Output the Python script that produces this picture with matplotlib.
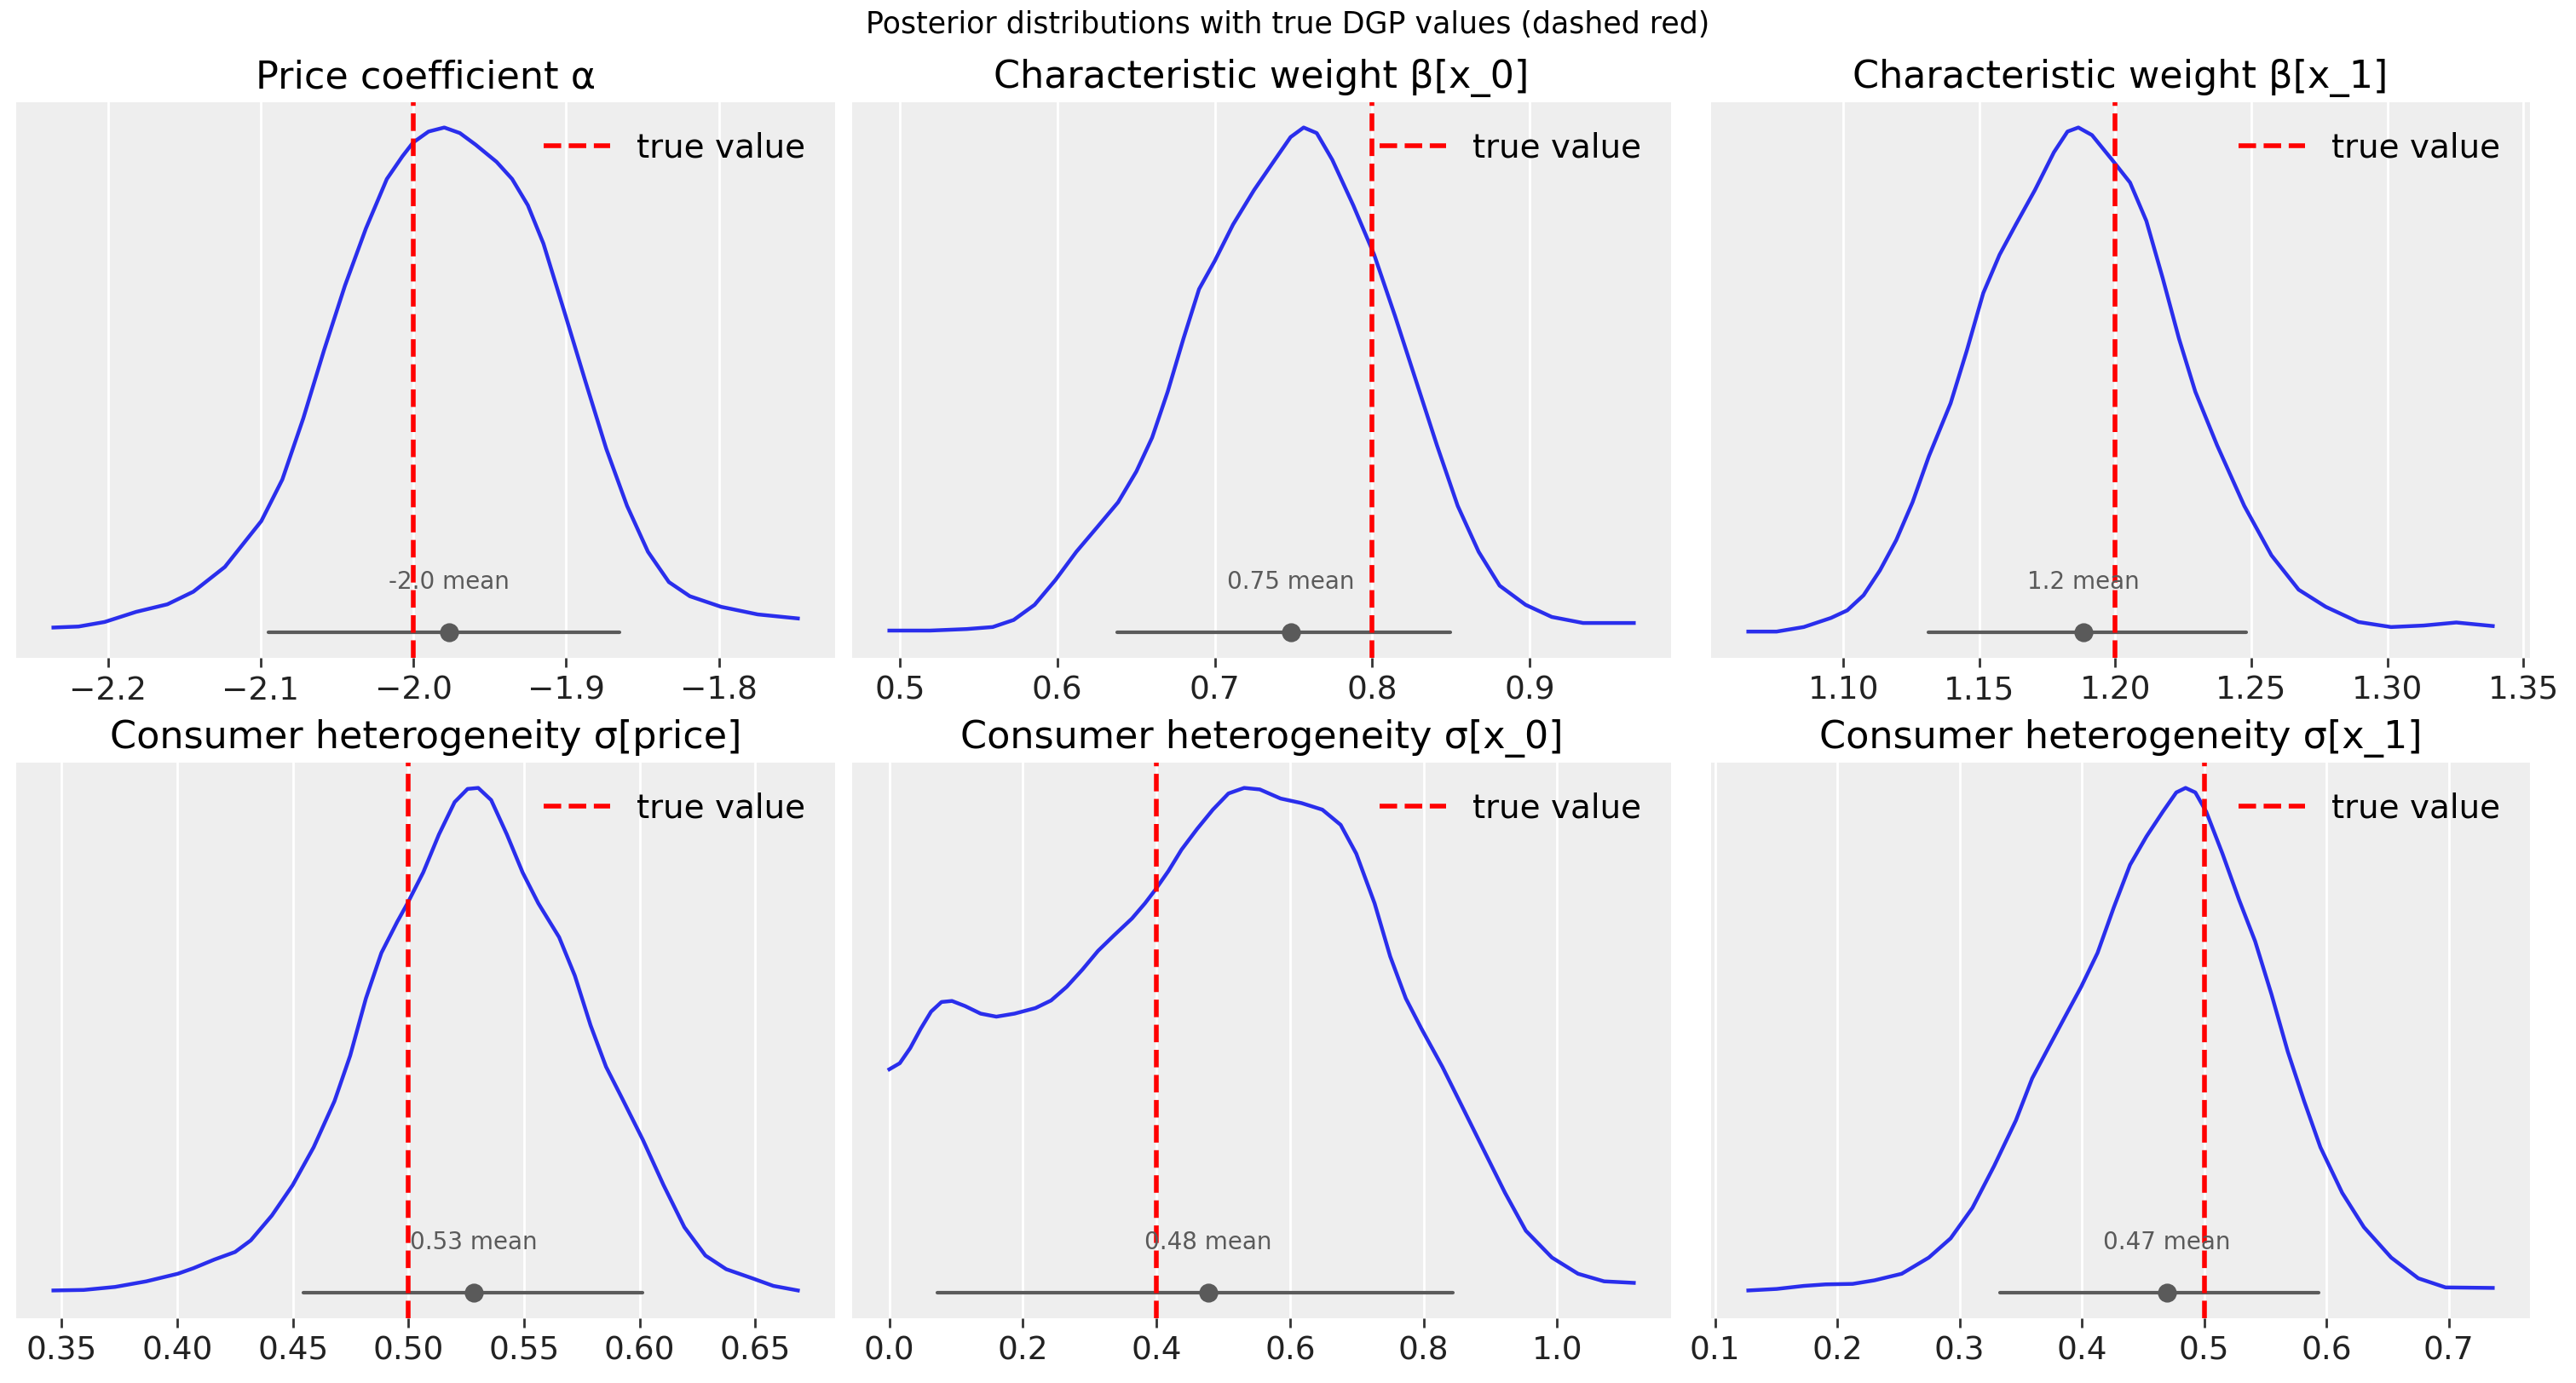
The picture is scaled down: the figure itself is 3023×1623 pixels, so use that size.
import numpy as np
import matplotlib
matplotlib.use("Agg")
import matplotlib.pyplot as plt

# posterior KDE curves (density scaled to peak = 1)
alpha_x = [-2.2356, -2.2191, -2.2021, -2.1815, -2.161, -2.144, -2.1234, -2.0995, -2.0858,
           -2.0721, -2.0585, -2.0448, -2.0311, -2.0174, -2.0072, -2.0003, -1.9901, -1.9798,
           -1.9696, -1.9593, -1.9456, -1.9354, -1.9251, -1.9149, -1.9012, -1.8876, -1.8738,
           -1.8602, -1.8465, -1.8328, -1.8191, -1.7986, -1.7747, -1.7484]
alpha_dens = [0.010, 0.012, 0.021, 0.041, 0.056, 0.081, 0.130, 0.221, 0.303, 0.424, 0.559,
              0.687, 0.800, 0.898, 0.943, 0.970, 0.992, 1.000, 0.989, 0.966, 0.932, 0.898,
              0.846, 0.770, 0.635, 0.499, 0.364, 0.251, 0.160, 0.100, 0.072, 0.051, 0.036, 0.028]

beta0_x = [0.4934, 0.5192, 0.5425, 0.559, 0.5723, 0.5856, 0.5988, 0.6121, 0.6254, 0.6386,
           0.6502, 0.6602, 0.6701, 0.6801, 0.690, 0.700, 0.7116, 0.7249, 0.7381, 0.7481,
           0.7564, 0.7647, 0.7746, 0.7879, 0.8012, 0.8144, 0.8277, 0.841, 0.8542, 0.8675,
           0.8808, 0.8973, 0.9139, 0.9338, 0.966]
beta0_dens = [0.004, 0.004, 0.007, 0.011, 0.025, 0.055, 0.104, 0.160, 0.209, 0.258, 0.319,
              0.386, 0.477, 0.582, 0.680, 0.736, 0.808, 0.876, 0.936, 0.981, 1.000, 0.989,
              0.936, 0.846, 0.748, 0.627, 0.499, 0.371, 0.251, 0.160, 0.093, 0.055, 0.031,
              0.019, 0.019]

beta1_x = [1.065, 1.0754, 1.0854, 1.0954, 1.1014, 1.1074, 1.1134, 1.1194, 1.1254, 1.1314,
           1.1394, 1.1454, 1.1514, 1.1574, 1.1634, 1.1704, 1.1774, 1.1824, 1.1864, 1.1914,
           1.1994, 1.2054, 1.2114, 1.2174, 1.2234, 1.2294, 1.2374, 1.2474, 1.2574, 1.2674,
           1.2774, 1.2894, 1.3014, 1.3134, 1.3254, 1.3388]
beta1_dens = [0.002, 0.002, 0.011, 0.029, 0.044, 0.074, 0.123, 0.183, 0.258, 0.349, 0.454,
              0.559, 0.672, 0.748, 0.808, 0.876, 0.951, 0.992, 1.000, 0.985, 0.932, 0.891,
              0.815, 0.702, 0.582, 0.477, 0.371, 0.251, 0.153, 0.085, 0.051, 0.021, 0.011,
              0.014, 0.020, 0.013]

sig_price_x = [0.3464, 0.3595, 0.3731, 0.3866, 0.4002, 0.407, 0.416, 0.425, 0.4318, 0.4409,
               0.4499, 0.459, 0.468, 0.4748, 0.4816, 0.4883, 0.4951, 0.4996, 0.5064, 0.5132,
               0.5200, 0.5256, 0.5302, 0.5358, 0.5426, 0.5494, 0.5562, 0.5652, 0.572, 0.5788,
               0.5855, 0.5923, 0.6014, 0.6104, 0.6194, 0.6285, 0.6375, 0.6488, 0.6579, 0.6685]
sig_price_dens = [0.005, 0.006, 0.012, 0.023, 0.038, 0.049, 0.066, 0.081, 0.104, 0.153,
                  0.213, 0.288, 0.379, 0.469, 0.582, 0.672, 0.733, 0.770, 0.831, 0.906,
                  0.970, 0.996, 0.998, 0.974, 0.906, 0.831, 0.770, 0.703, 0.627, 0.529,
                  0.447, 0.386, 0.303, 0.213, 0.130, 0.074, 0.047, 0.029, 0.014, 0.005]

sig_x0_x = [0.0, 0.0156, 0.0313, 0.0469, 0.0625, 0.0781, 0.0938, 0.1133, 0.1367, 0.1602,
            0.1875, 0.2188, 0.2422, 0.2656, 0.2891, 0.3125, 0.3359, 0.3633, 0.3828, 0.3984,
            0.418, 0.4375, 0.4609, 0.4844, 0.5078, 0.5313, 0.5547, 0.5859, 0.6172, 0.6484,
            0.6758, 0.6992, 0.7266, 0.75, 0.7734, 0.7969, 0.8281, 0.8594, 0.8906, 0.9219,
            0.9531, 0.9922, 1.0313, 1.0703, 1.1148]
sig_x0_dens = [0.442, 0.454, 0.484, 0.522, 0.556, 0.575, 0.577, 0.567, 0.552, 0.546, 0.552,
               0.563, 0.578, 0.605, 0.639, 0.676, 0.706, 0.740, 0.770, 0.797, 0.834, 0.876,
               0.917, 0.955, 0.987, 0.998, 0.995, 0.977, 0.968, 0.955, 0.925, 0.868, 0.770,
               0.665, 0.582, 0.522, 0.447, 0.364, 0.281, 0.198, 0.123, 0.070, 0.038, 0.023,
               0.020]

sig_x1_x = [0.1271, 0.1503, 0.1725, 0.1903, 0.2125, 0.2303, 0.2526, 0.2748, 0.2926, 0.3104,
            0.3282, 0.346, 0.3593, 0.3727, 0.386, 0.3994, 0.4128, 0.4261, 0.4394, 0.4528,
            0.4662, 0.4772, 0.4848, 0.4928, 0.5017, 0.515, 0.5284, 0.5417, 0.5551, 0.5684,
            0.5818, 0.5951, 0.6129, 0.6307, 0.653, 0.6752, 0.6975, 0.7361]
sig_x1_dens = [0.005, 0.008, 0.014, 0.017, 0.018, 0.025, 0.038, 0.070, 0.108, 0.168, 0.251,
               0.341, 0.424, 0.485, 0.545, 0.605, 0.672, 0.762, 0.846, 0.902, 0.951, 0.989,
               0.998, 0.989, 0.951, 0.868, 0.778, 0.695, 0.590, 0.477, 0.379, 0.288, 0.198,
               0.130, 0.070, 0.029, 0.011, 0.010]

titles = ["Price coefficient α", "Characteristic weight β[x_0]", "Characteristic weight β[x_1]",
          "Consumer heterogeneity σ[price]", "Consumer heterogeneity σ[x_0]",
          "Consumer heterogeneity σ[x_1]"]
true_values = [-2.0, 0.8, 1.2, 0.5, 0.4, 0.5]
means = [-1.9768, 0.7484, 1.1882, 0.5283, 0.4773, 0.4697]
mean_labels = ["-2.0", "0.75", "1.2", "0.53", "0.48", "0.47"]
hdi_low = [-2.0947, 0.638, 1.1312, 0.4547, 0.0719, 0.3327]
hdi_high = [-1.8653, 0.8493, 1.2482, 0.6014, 0.8438, 0.5938]

curves = [(alpha_x, alpha_dens), (beta0_x, beta0_dens), (beta1_x, beta1_dens),
          (sig_price_x, sig_price_dens), (sig_x0_x, sig_x0_dens), (sig_x1_x, sig_x1_dens)]

W, H = 3023, 1623
fig = plt.figure(figsize=(W / 200, H / 200), dpi=200)

col_left = [19, 1000, 2008]
row_top = [120, 895]
ax_w, ax_h = 961, 652

for i, (xs, ys) in enumerate(curves):
    r, c = divmod(i, 3)
    rect = [col_left[c] / W, 1 - (row_top[r] + ax_h) / H, ax_w / W, ax_h / H]
    ax = fig.add_axes(rect)
    ax.set_facecolor("#eeeeee")
    for s in ax.spines.values():
        s.set_visible(False)
    ax.grid(axis="x", color="white", lw=1.0)
    ax.set_axisbelow(True)

    ax.plot(xs, ys, color="#2a2eec", lw=1.6, solid_joinstyle="round")
    ax.plot([hdi_low[i], hdi_high[i]], [0, 0], color="#5a5a5a", lw=1.5,
            solid_capstyle="round")
    ax.plot(means[i], 0, "o", color="#5a5a5a", ms=7)
    ax.text(means[i], 0.087 * max(ys), f"{mean_labels[i]} mean", ha="center",
            va="baseline", fontsize=10, color="#5a5a5a")
    ax.axvline(true_values[i], color="red", ls="--", lw=2, label="true value")

    ax.set_title(titles[i], fontsize=16)
    ax.yaxis.set_visible(False)
    ax.tick_params(axis="x", labelsize=13.5, length=4, width=1, color="#333333",
                   labelcolor="#222222")
    ax.legend(loc="upper right", frameon=False, fontsize=14)

fig.suptitle("Posterior distributions with true DGP values (dashed red)", fontsize=12.5,
             y=1 - 12 / H, va="top")

fig.savefig("out.png", dpi=200)
